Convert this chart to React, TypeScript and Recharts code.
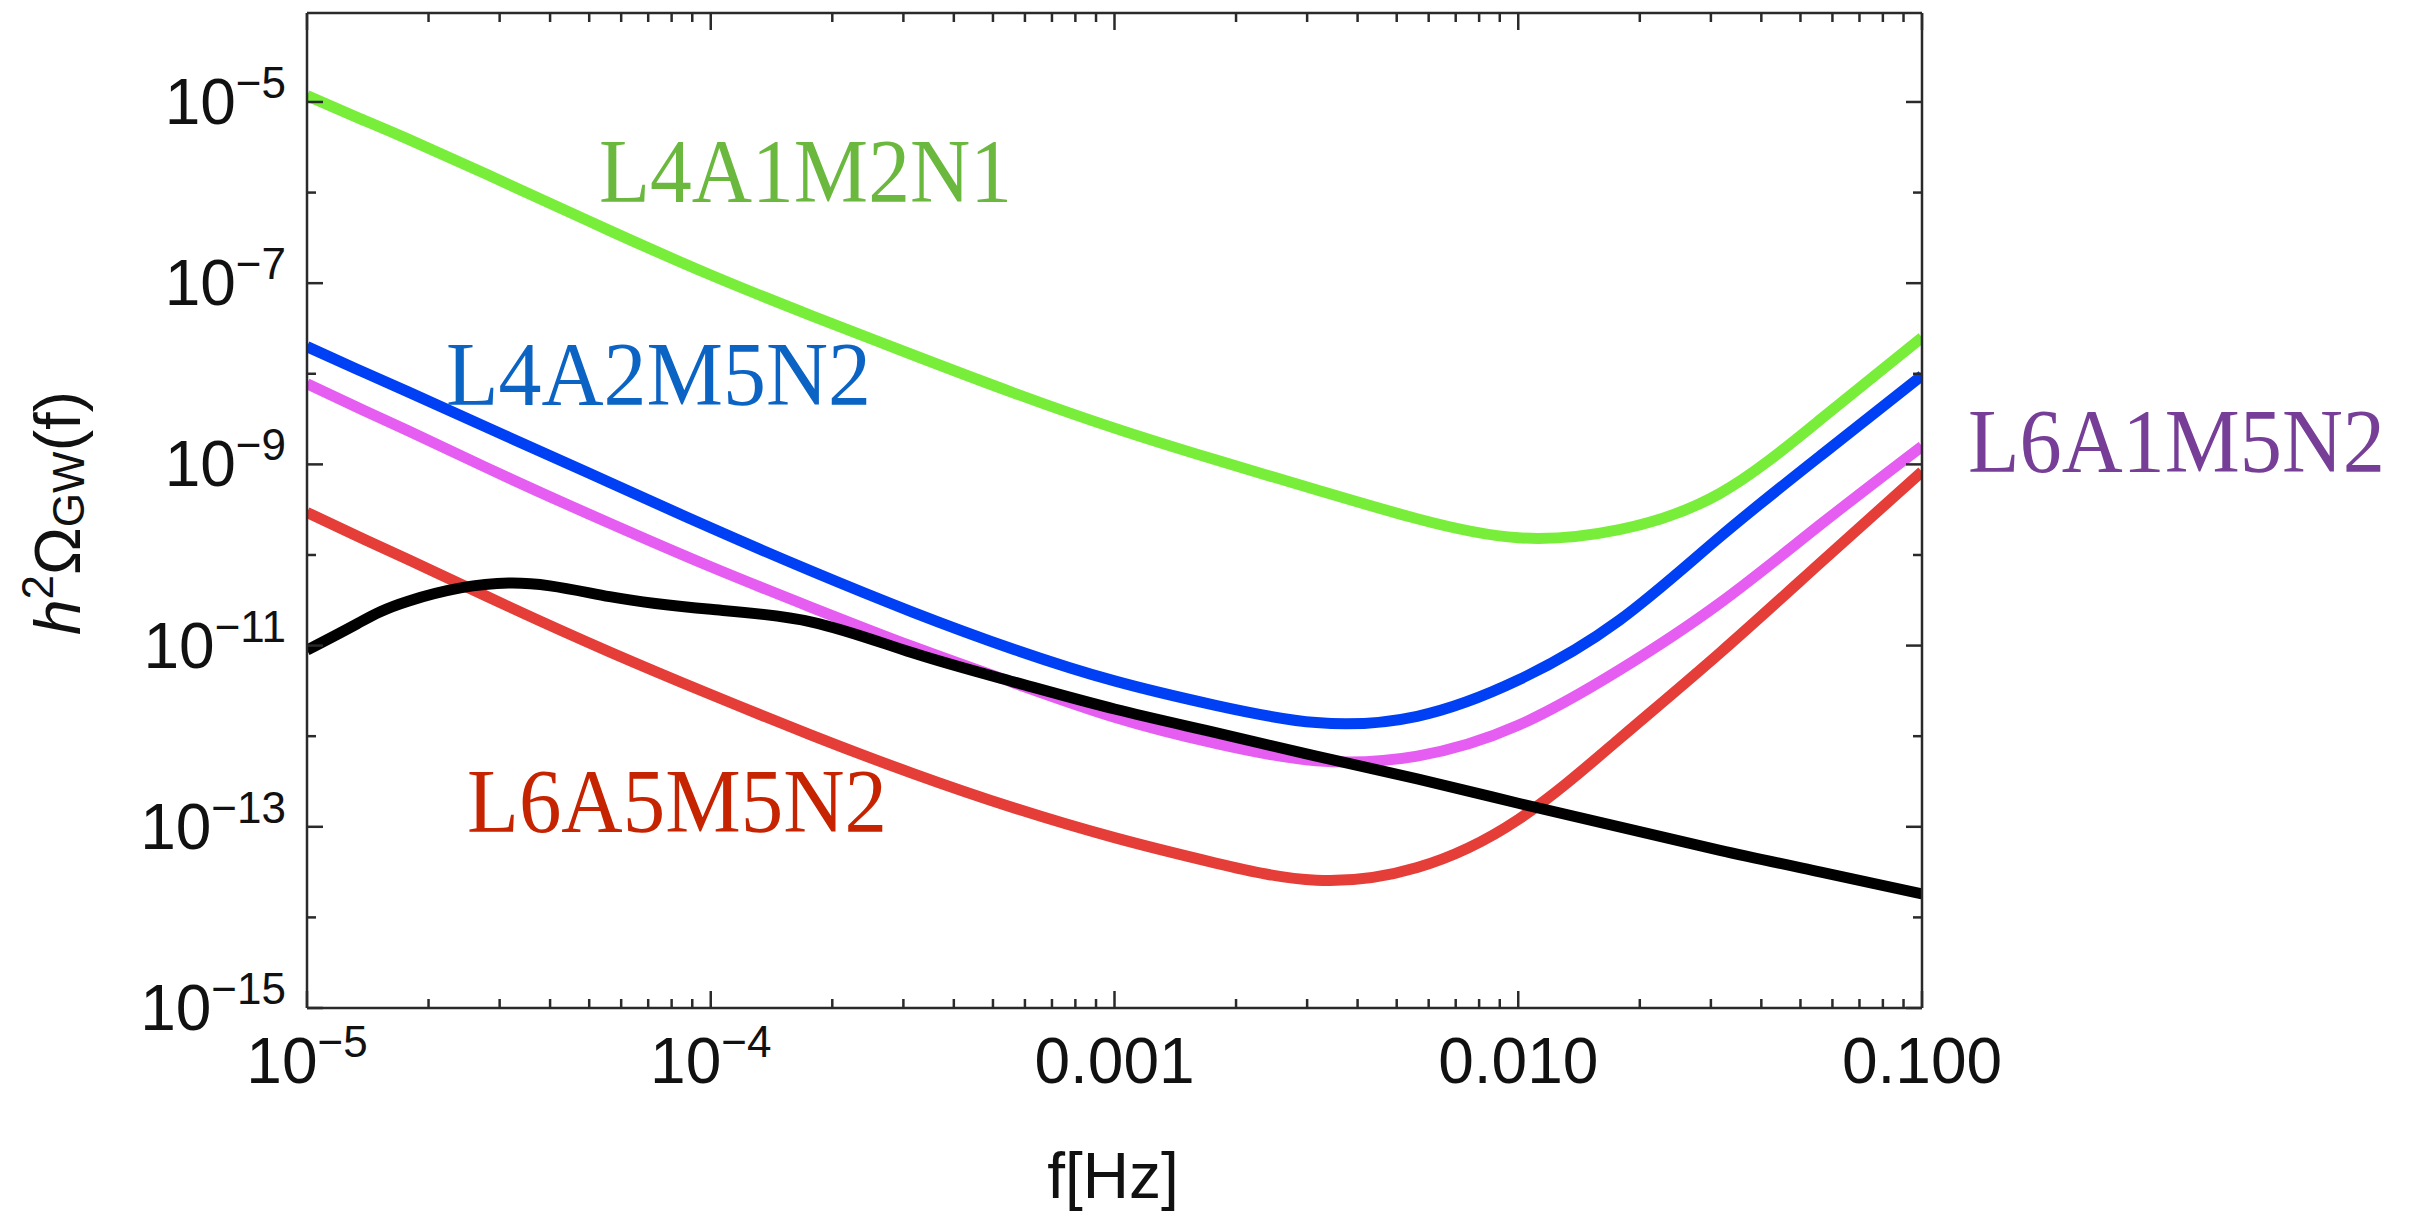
import React from 'react'
import { LineChart, Line, XAxis, YAxis } from 'recharts'

const W = 2421
const H = 1211

// frequency grid [Hz]
const FREQ = [
  1e-5, 1.33e-5, 1.78e-5, 3.16e-5, 5.62e-5, 1e-4, 1.78e-4, 3.16e-4, 5.62e-4,
  1e-3, 1.78e-3, 3.16e-3, 5.62e-3, 1e-2, 1.78e-2, 3.16e-2, 5.62e-2, 0.1,
]

// log10(h^2 Omega_GW), one value per FREQ entry
const L4A1M2N1 = [
  -4.93, -5.17, -5.41, -5.91, -6.42, -6.91, -7.36, -7.79, -8.21, -8.6, -8.95,
  -9.28, -9.6, -9.81, -9.72, -9.32, -8.5, -7.6,
]
const L4A2M5N2 = [
  -7.7, -7.95, -8.2, -8.7, -9.2, -9.7, -10.18, -10.63, -11.04, -11.39, -11.66,
  -11.85, -11.78, -11.38, -10.72, -9.8, -8.9, -8.02,
]
const L6A1M5N2 = [
  -8.11, -8.37, -8.63, -9.15, -9.65, -10.13, -10.58, -11.01, -11.41, -11.79,
  -12.08, -12.27, -12.22, -11.88, -11.27, -10.53, -9.66, -8.8,
]
const L6A5M5N2 = [
  -9.53, -9.79, -10.05, -10.57, -11.07, -11.54, -11.99, -12.41, -12.79, -13.12,
  -13.4, -13.59, -13.45, -12.92, -12.03, -11.08, -10.08, -9.08,
]
const SENSITIVITY = [
  -11.05, -10.76, -10.51, -10.31, -10.46, -10.6, -10.74, -11.08, -11.4, -11.7,
  -11.96, -12.22, -12.47, -12.74, -13.0, -13.26, -13.5, -13.74,
]

// axis ticks
const X_MAJOR = [1e-5, 1e-4, 1e-3, 1e-2, 1e-1]
const X_TICK_LABELS = ['10^−5', '10^−4', '0.001', '0.010', '0.100']
const X_MINOR_MULT = [2, 3, 4, 5, 6, 7, 8, 9]
const Y_TICK_EXP = [-15, -14, -13, -12, -11, -10, -9, -8, -7, -6, -5]
const Y_LABELED_EXP = [-15, -13, -11, -9, -7, -5]

const X_TICKS = [
  ...X_MAJOR,
  ...X_MAJOR.slice(0, -1).flatMap((d) => X_MINOR_MULT.map((m) => m * d)),
].sort((a, b) => a - b)
const Y_TICKS = Y_TICK_EXP.map((e) => Math.pow(10, e))

const X_DOMAIN = [1e-5, 0.1]
const Y_DOMAIN = [1e-15, Math.pow(10, -4.018)]

const series = [
  { key: 'l4a1m2n1', values: L4A1M2N1, color: '#78ee3a' },
  { key: 'l4a2m5n2', values: L4A2M5N2, color: '#0040f5' },
  { key: 'l6a1m5n2', values: L6A1M5N2, color: '#e65df2' },
  { key: 'l6a5m5n2', values: L6A5M5N2, color: '#e53d38' },
  { key: 'sens', values: SENSITIVITY, color: '#000000' },
]

const data = FREQ.map((f, i) => {
  const row: Record<string, number> = { f }
  series.forEach((s) => {
    row[s.key] = Math.pow(10, s.values[i])
  })
  return row
})

const curveLabels = [
  { text: 'L4A1M2N1', x: 599, y: 202, w: 413, color: '#6bb83f' },
  { text: 'L4A2M5N2', x: 446, y: 405, w: 425, color: '#0b63c3' },
  { text: 'L6A1M5N2', x: 1968, y: 472, w: 417, color: '#773e98' },
  { text: 'L6A5M5N2', x: 467, y: 832, w: 420, color: '#c62300' },
]

const FRAME = '#2a2a2a'
const SANS = '"Liberation Sans", Arial, sans-serif'
const SERIF = '"Liberation Serif", "Times New Roman", serif'

const isMajor = (v: number) =>
  X_MAJOR.findIndex((m) => Math.abs(Math.log10(v / m)) < 1e-6)

const TickText = ({ x, y, anchor, label }: any) => {
  const [base, exp] = label.split('^')
  return (
    <text x={x} y={y} textAnchor={anchor} fontFamily={SANS} fontSize={64} fill="#111">
      <tspan>{base}</tspan>
      {exp && (
        <tspan dy={-26} fontSize={44}>
          {exp}
        </tspan>
      )}
    </text>
  )
}

// ticks point into the plot, Mathematica style
const xTick = (side: 'bottom' | 'top') => (props: any) => {
  const { x, y, payload } = props
  const i = isMajor(payload.value)
  const len = i >= 0 ? 17 : 9
  const dir = side === 'bottom' ? -1 : 1
  return (
    <g>
      <line x1={x} x2={x} y1={y} y2={y + dir * len} stroke={FRAME} strokeWidth={2.5} />
      {side === 'bottom' && i >= 0 && (
        <TickText x={x} y={y + 75} anchor="middle" label={X_TICK_LABELS[i]} />
      )}
    </g>
  )
}

const yTick = (side: 'left' | 'right') => (props: any) => {
  const { x, y, payload } = props
  const e = Math.round(Math.log10(payload.value))
  const labeled = Y_LABELED_EXP.includes(e)
  const len = labeled ? 16 : 9
  const dir = side === 'left' ? 1 : -1
  return (
    <g>
      <line x1={x} x2={x + dir * len} y1={y} y2={y} stroke={FRAME} strokeWidth={2.5} />
      {side === 'left' && labeled && (
        <TickText x={x - 21} y={y + 22} anchor="end" label={`10^−${-e}`} />
      )}
    </g>
  )
}

const axisLine = { stroke: FRAME, strokeWidth: 2.5 }

export default function App() {
  return (
    <div style={{ position: 'absolute', left: 0, top: 0, width: W, height: H, background: '#fff' }}>
      <LineChart
        width={W}
        height={H}
        data={data}
        margin={{ top: 12, right: 498, bottom: 202, left: 306 }}
      >
        <XAxis
          dataKey="f"
          type="number"
          scale="log"
          domain={X_DOMAIN}
          allowDataOverflow
          ticks={X_TICKS}
          interval={0}
          height={1}
          tickSize={0}
          tickMargin={0}
          tickLine={false}
          axisLine={axisLine}
          tick={xTick('bottom')}
        />
        <XAxis
          xAxisId="top"
          orientation="top"
          dataKey="f"
          type="number"
          scale="log"
          domain={X_DOMAIN}
          allowDataOverflow
          ticks={X_TICKS}
          interval={0}
          height={1}
          tickSize={0}
          tickMargin={0}
          tickLine={false}
          axisLine={axisLine}
          tick={xTick('top')}
        />
        <YAxis
          type="number"
          scale="log"
          domain={Y_DOMAIN}
          allowDataOverflow
          ticks={Y_TICKS}
          interval={0}
          width={1}
          tickSize={0}
          tickMargin={0}
          tickLine={false}
          axisLine={axisLine}
          tick={yTick('left')}
        />
        <YAxis
          yAxisId="right"
          orientation="right"
          type="number"
          scale="log"
          domain={Y_DOMAIN}
          allowDataOverflow
          ticks={Y_TICKS}
          interval={0}
          width={1}
          tickSize={0}
          tickMargin={0}
          tickLine={false}
          axisLine={axisLine}
          tick={yTick('right')}
        />
        {series.map((s) => (
          <Line
            key={s.key}
            dataKey={s.key}
            type="natural"
            stroke={s.color}
            strokeWidth={11}
            strokeLinejoin="round"
            dot={false}
            activeDot={false}
            isAnimationActive={false}
          />
        ))}
      </LineChart>
      <svg
        width={W}
        height={H}
        style={{ position: 'absolute', left: 0, top: 0, pointerEvents: 'none' }}
      >
        {curveLabels.map((l) => (
          <text
            key={l.text}
            x={l.x}
            y={l.y}
            fontFamily={SERIF}
            fontSize={90}
            fill={l.color}
            textLength={l.w}
            lengthAdjust="spacingAndGlyphs"
          >
            {l.text}
          </text>
        ))}
        <text x={1113} y={1198} textAnchor="middle" fontFamily={SANS} fontSize={64} fill="#111">
          f[Hz]
        </text>
        <text
          x={80}
          y={513}
          transform="rotate(-90 80 513)"
          textAnchor="middle"
          fontFamily={SANS}
          fontSize={64}
          fill="#111"
        >
          <tspan fontStyle="italic">h</tspan>
          <tspan dy={-27} fontSize={44}>2</tspan>
          <tspan dy={27}>Ω</tspan>
          <tspan dy={4} fontSize={44}>GW</tspan>
          <tspan dy={-4}>(f)</tspan>
        </text>
      </svg>
    </div>
  )
}
